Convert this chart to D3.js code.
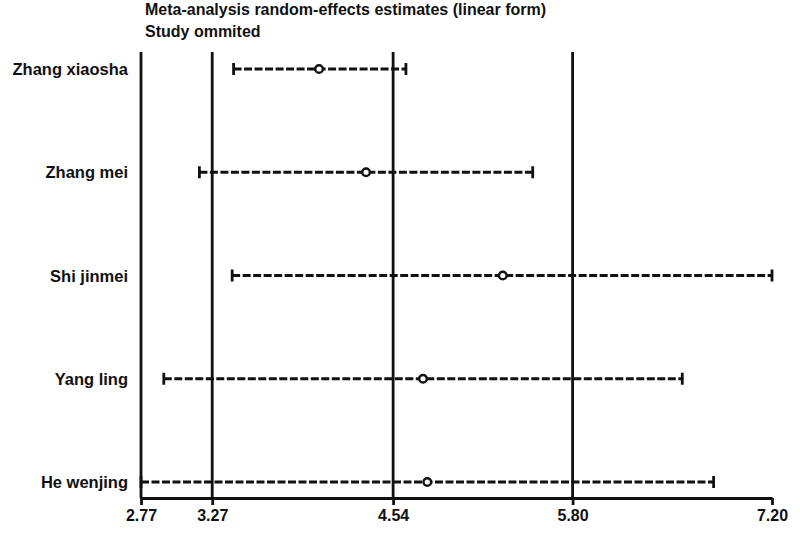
<!DOCTYPE html>
<html>
<head>
<meta charset="utf-8">
<script src="https://cdn.jsdelivr.net/npm/d3@7"></script>
<style>
  html, body { margin: 0; padding: 0; background: #fff; }
  svg text { font-family: "Liberation Sans", Arial, sans-serif; font-weight: bold; fill: #111; }
</style>
</head>
<body>
<svg id="chart" width="800" height="534"></svg>
<script>
const studies = ["Zhang xiaosha", "Zhang mei", "Shi jinmei", "Yang ling", "He wenjing"];
const estimates = [4.02, 4.35, 5.31, 4.75, 4.78];
const lowerCI = [3.42, 3.18, 3.41, 2.93, 2.77];
const upperCI = [4.63, 5.52, 7.20, 6.57, 6.79];
const tickValues = [2.77, 3.27, 4.54, 5.80, 7.20];
const refLines = [2.77, 3.27, 4.54, 5.80];
const titleLines = ["Meta-analysis random-effects estimates (linear form)", "Study ommited"];

const svg = d3.select("#chart");
const x = d3.scaleLinear().domain([2.77, 7.20]).range([141, 772]);
const y = d3.scalePoint().domain(studies).range([69, 482]);
const axisY = 498;
const topY = 52;
const ink = "#111";

// title
svg.selectAll("text.title").data(titleLines).join("text")
  .attr("class", "title")
  .attr("x", 145)
  .attr("y", (d, i) => 15 + i * 21.5)
  .attr("font-size", 16)
  .text(d => d);

// reference vertical lines
svg.selectAll("line.ref").data(refLines).join("line")
  .attr("x1", d => x(d)).attr("x2", d => x(d))
  .attr("y1", topY).attr("y2", axisY)
  .attr("stroke", ink).attr("stroke-width", 2.8);

// x axis
const axis = d3.axisBottom(x).tickValues(tickValues).tickFormat(d3.format(".2f")).tickSize(7).tickSizeOuter(0);
const gAxis = svg.append("g").attr("transform", `translate(0,${axisY})`).call(axis);
gAxis.select(".domain").attr("stroke", ink).attr("stroke-width", 2.8);
gAxis.selectAll(".tick line").attr("stroke", ink).attr("stroke-width", 2.8);
gAxis.selectAll(".tick text")
  .attr("fill", ink)
  .attr("font-size", 16)
  .attr("font-family", "Liberation Sans, Arial, sans-serif")
  .attr("font-weight", "bold")
  .attr("y", 12)
  .attr("dy", "0.71em");

// rows
const rows = svg.selectAll("g.row").data(studies).join("g").attr("class", "row");

rows.append("text")
  .attr("x", 128)
  .attr("y", d => y(d) + 6)
  .attr("text-anchor", "end")
  .attr("font-size", 16.5)
  .text(d => d);

rows.append("line")
  .attr("x1", (d, i) => x(lowerCI[i]))
  .attr("x2", (d, i) => x(upperCI[i]))
  .attr("y1", d => y(d)).attr("y2", d => y(d))
  .attr("stroke", ink).attr("stroke-width", 3.2)
  .attr("stroke-dasharray", "8,2.5");

rows.append("line")
  .attr("x1", (d, i) => x(lowerCI[i])).attr("x2", (d, i) => x(lowerCI[i]))
  .attr("y1", d => y(d) - 6).attr("y2", d => y(d) + 6)
  .attr("stroke", ink).attr("stroke-width", 2.8);

rows.append("line")
  .attr("x1", (d, i) => x(upperCI[i])).attr("x2", (d, i) => x(upperCI[i]))
  .attr("y1", d => y(d) - 6).attr("y2", d => y(d) + 6)
  .attr("stroke", ink).attr("stroke-width", 2.8);

rows.append("circle")
  .attr("cx", (d, i) => x(estimates[i]))
  .attr("cy", d => y(d))
  .attr("r", 3.8)
  .attr("fill", "#fff")
  .attr("stroke", ink)
  .attr("stroke-width", 2.4);
</script>
</body>
</html>
